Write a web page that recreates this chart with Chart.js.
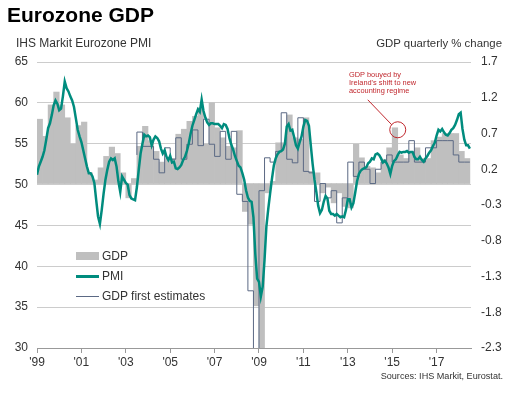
<!DOCTYPE html>
<html>
<head>
<meta charset="utf-8">
<script src="https://cdn.jsdelivr.net/npm/chart.js@4.4.0/dist/chart.umd.min.js"></script>
<style>
  body { margin: 0; background: #fff; font-family: 'Liberation Sans', Arial, sans-serif; }
  #wrap { position: relative; width: 512px; height: 395px; overflow: hidden; }
  canvas { position: absolute; left: 0; top: 0; }
  .txt { position: absolute; white-space: nowrap; color: #333; font-size: 12px; line-height: 12px; }
  .key { position: absolute; left: 76px; width: 23px; }
</style>
</head>
<body>
<div id="wrap">
  <canvas id="chart" width="512" height="395"></canvas>
  <div class="txt" style="left:7px;top:4px;font-size:21px;line-height:21px;font-weight:bold;color:#000">Eurozone GDP</div>
  <div class="txt" style="left:16px;top:37px">IHS Markit Eurozone PMI</div>
  <div class="txt" style="right:10px;top:37px;font-size:11.4px">GDP quarterly % change</div>
  <div class="txt" style="right:9px;top:372px;font-size:9.1px;line-height:9.5px">Sources: IHS Markit, Eurostat.</div>
  <div class="txt" style="left:349px;top:71px;font-size:7.4px;line-height:8px;color:#c0272d">GDP bouyed by<br>Ireland's shift to new<br>accounting regime</div>

  <div class="key" style="top:252px;height:8px;background:#bfbfbf"></div>
  <div class="txt" style="left:102px;top:250px">GDP</div>
  <div class="key" style="top:275px;height:3px;background:#008c7e"></div>
  <div class="txt" style="left:102px;top:270px">PMI</div>
  <div class="key" style="top:296px;height:1px;background:#5b6984"></div>
  <div class="txt" style="left:102px;top:290px">GDP first estimates</div>
</div>
<script>
// IHS Markit Eurozone PMI, monthly from Jan 1999
const pmi = [
  51.2, 52.2, 52.8, 53.4, 54.2, 55.5, 56.9, 57.5, 58.5, 59.7, 60.3, 59.9,
  59.1, 59.3, 60.8, 62.6, 61.8, 61.4, 60.8, 60.3, 59.5, 58.1, 56.7, 55.9,
  55.2, 54.2, 53.2, 52.2, 51.4, 51.4, 51.0, 50.2, 48.1, 46.1, 45.2, 46.9,
  48.9, 50.6, 51.8, 52.8, 53.2, 53.0, 53.2, 52.2, 50.4, 49.1, 51.0, 50.6,
  50.2, 50.0, 48.7, 48.3, 48.2, 48.1, 49.7, 51.8, 53.8, 55.0, 56.1, 55.9,
  56.0, 55.8, 54.8, 55.5, 55.9, 55.7, 55.3, 54.4, 53.8, 54.2, 53.4, 53.0,
  53.5, 52.7, 52.8, 52.0, 51.9, 52.1, 52.4, 53.0, 53.4, 54.1, 55.0, 56.2,
  57.2, 57.9, 58.6, 59.2, 58.9, 60.4, 59.0, 58.2, 57.6, 57.3, 57.5, 57.5,
  57.4, 57.4, 57.4, 57.2, 56.9, 57.4, 57.3, 56.8, 55.7, 54.9, 54.3, 53.5,
  52.9, 52.3, 52.1, 51.4, 50.6, 49.3, 48.4, 48.0, 47.9, 46.0, 41.5, 38.5,
  38.1, 36.3, 37.5, 40.8, 44.9, 47.0, 48.9, 50.7, 52.3, 53.2, 53.7, 54.0,
  54.1, 54.3, 55.0, 57.1, 57.4, 56.6, 56.7, 55.8, 54.8, 54.4, 55.2, 55.9,
  57.1, 57.9, 57.8, 57.2, 54.8, 52.5, 50.6, 49.1, 47.4, 46.5, 46.9, 47.9,
  48.6, 48.3, 46.8, 46.4, 46.4, 46.2, 46.4, 46.2, 46.0, 46.1, 46.0, 46.9,
  48.2, 48.2, 47.2, 47.7, 49.0, 50.4, 51.3, 51.7, 51.9, 52.0, 52.1, 52.6,
  52.8, 53.2, 53.1, 53.7, 53.8, 53.6, 53.2, 52.7, 52.9, 52.6, 52.1, 51.3,
  52.3, 52.9, 53.1, 53.6, 54.0, 53.9, 54.0, 54.0, 54.1, 53.9, 54.0, 54.0,
  53.4, 53.1, 53.1, 53.4, 53.0, 52.8, 53.2, 53.5, 53.9, 54.2, 54.7, 55.1,
  56.0, 56.7, 56.5, 56.8, 56.4, 56.1, 56.0, 56.3, 56.7, 56.9, 57.3, 57.9,
  58.6, 58.8, 56.8, 55.5, 54.8, 54.8, 54.4
];

// GDP quarterly % change, from 1999 Q1
const gdp = [
  0.90, 0.66, 1.10, 1.28,   1.10, 0.92, 0.55, 0.81,   0.86, 0.15, 0.05, 0.22,
  0.38, 0.51, 0.42, 0.15,  -0.20, 0.07, 0.52, 0.80,   0.60, 0.45, 0.30, 0.35,
  0.35, 0.69, 0.76, 0.87,   0.94, 1.06, 0.55, 1.13,   0.78, 0.64, 0.52, 0.50,
  0.74, -0.39, -0.57, -1.71, -3.00, -0.13, 0.03, 0.57, 0.57, 0.96, 0.64, 0.62,
  0.92, 0.17, 0.15, -0.13, -0.05, -0.27, -0.13, -0.32, -0.34, 0.55, 0.36, 0.24,
  0.22, 0.15, 0.34, 0.50,   0.78, 0.40, 0.35, 0.45,   0.50, 0.35, 0.35, 0.60,
  0.65, 0.70, 0.70, 0.70,   0.45, 0.35
];

// GDP first (flash) estimates, from 2003 Q3
const firstStartQuarter = 18;
const gdpFirst = [
  0.40, 0.72,
  0.52, 0.52, 0.34, 0.15,   0.50, 0.34, 0.64, 0.34,   0.55, 0.75, 0.53, 0.90,
  0.55, 0.38, 0.73, 0.34,   0.73, -0.15, -0.25, -1.50, -2.50, -0.10, 0.36, 0.30,
  0.45, 0.99, 0.34, 0.29,   0.92, 0.17, 0.15, -0.25,  0.00, -0.20, -0.10, -0.55,
  -0.20, 0.30, 0.10, 0.30,  0.20, 0.00, 0.20, 0.30,   0.40, 0.30, 0.30, 0.30,
  0.60, 0.30, 0.30, 0.50,   0.50, 0.60, 0.60, 0.60,   0.40, 0.30
];

const xTickLabels = ["'99", "'01", "'03", "'05", "'07", "'09", "'11", "'13", "'15", "'17"];
const gdpTicks = [-2.3, -1.8, -1.3, -0.8, -0.3, 0.2, 0.7, 1.2, 1.7];
const calloutQuarter = 64; // 2015 Q1, Ireland

const teal = '#008c7e';
const barGrey = '#bfbfbf';
const firstCol = '#5b6984';
const red = '#c0272d';
const tickFont = { family: "'Liberation Sans', Arial, sans-serif", size: 12 };

// x values are months since Jan 1999
const pmiPts = pmi.map((v, i) => ({ x: i, y: v }));
const gdpPts = gdp.map((v, i) => ({ x: 3 * i + 1.5, y: v }));
const firstPts = gdpFirst.map((v, i) => ({ x: 3 * (i + firstStartQuarter), y: v }));
firstPts.push({ x: 3 * (gdpFirst.length + firstStartQuarter), y: gdpFirst[gdpFirst.length - 1] });

const callout = {
  id: 'callout',
  afterDatasetsDraw(chart) {
    const { ctx, scales } = chart;
    const cx = scales.x.getPixelForValue(3 * calloutQuarter + 3);
    const cy = scales.y2.getPixelForValue(gdp[calloutQuarter]) + 2;
    ctx.save();
    ctx.strokeStyle = red;
    ctx.lineWidth = 1;
    ctx.beginPath();
    ctx.arc(cx, cy, 8, 0, Math.PI * 2);
    ctx.stroke();
    ctx.beginPath();
    ctx.moveTo(cx - 30, cy - 30);
    ctx.lineTo(cx - 6, cy - 5);
    ctx.stroke();
    ctx.restore();
  }
};

new Chart(document.getElementById('chart'), {
  type: 'bar',
  data: {
    datasets: [
      {
        type: 'line', label: 'PMI', data: pmiPts, yAxisID: 'y',
        borderColor: teal, borderWidth: 2.5, pointRadius: 0, tension: 0, order: 0
      },
      {
        type: 'line', label: 'GDP first estimates', data: firstPts, yAxisID: 'y2',
        borderColor: firstCol, borderWidth: 1, pointRadius: 0, stepped: 'after', order: 1
      },
      {
        type: 'bar', label: 'GDP', data: gdpPts, yAxisID: 'y2',
        backgroundColor: barGrey, borderWidth: 0, barPercentage: 1, categoryPercentage: 1, order: 2
      }
    ]
  },
  options: {
    responsive: false,
    animation: false,
    devicePixelRatio: 1,
    layout: { padding: { top: 62, left: 0, right: 0, bottom: 0 } },
    plugins: { legend: { display: false }, tooltip: { enabled: false } },
    scales: {
      x: {
        type: 'linear', min: 0, max: 234.6, offset: false,
        afterBuildTicks: s => { s.ticks = xTickLabels.map((l, i) => ({ value: i * 24 })); },
        ticks: { callback: v => xTickLabels[v / 24], font: tickFont, color: '#333', padding: 2, maxRotation: 0, autoSkip: false },
        grid: { drawOnChartArea: false, tickLength: 5, color: '#999', offset: false },
        border: { color: '#999' },
        afterFit: s => { s.height = 47; }
      },
      y: {
        position: 'left', min: 30, max: 65,
        ticks: { stepSize: 5, padding: 9, font: tickFont, color: '#333' },
        grid: { color: '#cccccc', drawTicks: false },
        border: { display: false },
        afterFit: s => { s.width = 37; }
      },
      y2: {
        position: 'right', min: -2.3, max: 1.7,
        afterBuildTicks: s => { s.ticks = gdpTicks.map(v => ({ value: v })); },
        ticks: { callback: v => v.toFixed(1), padding: 10, font: tickFont, color: '#333' },
        grid: { display: false, drawTicks: false },
        border: { display: false },
        afterFit: s => { s.width = 41; }
      }
    }
  },
  plugins: [callout]
});
</script>
</body>
</html>
